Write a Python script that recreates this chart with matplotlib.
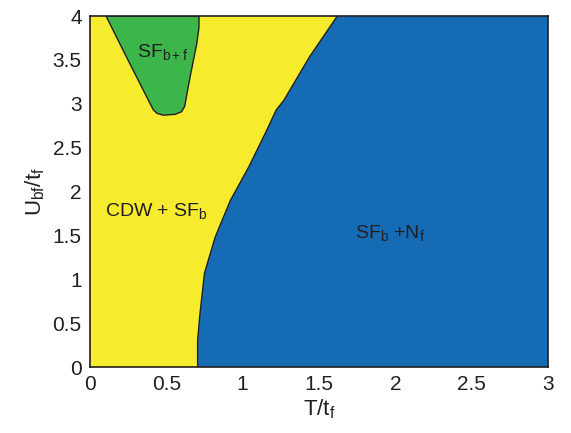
import matplotlib
matplotlib.use("Agg")
import matplotlib.pyplot as plt
from matplotlib.patches import Polygon

plt.rcParams['font.family'] = ['Liberation Sans', 'DejaVu Sans']
plt.rcParams['mathtext.fontset'] = 'custom'
plt.rcParams['mathtext.rm'] = 'Liberation Sans'
plt.rcParams['mathtext.it'] = 'Liberation Sans'

# Phase boundary between CDW+SF_b (yellow) and SF_b+N_f (blue)
blue_U = [0.0, 0.3, 0.6, 1.07, 1.48, 1.90, 2.28, 2.67, 2.93, 3.04, 3.54, 4.0]
blue_T = [0.705, 0.705, 0.72, 0.75, 0.82, 0.92, 1.04, 1.15, 1.22, 1.27, 1.44, 1.62]

# SF_{b+f} (green) pocket boundary
green_T = [0.105, 0.26, 0.415, 0.44, 0.48, 0.56, 0.60, 0.62, 0.655, 0.70, 0.714, 0.714]
green_U = [4.0, 3.46, 2.93, 2.89, 2.87, 2.88, 2.91, 2.97, 3.30, 3.69, 3.87, 4.0]

xticks = [0, 0.5, 1, 1.5, 2, 2.5, 3]
yticks = [0, 0.5, 1, 1.5, 2, 2.5, 3, 3.5, 4]

YELLOW = '#F6EB2C'
GREEN = '#3CB54A'
BLUE = '#166BB5'
EDGE = '#231F20'

fig = plt.figure(figsize=(5.71, 4.33), dpi=100)
ax = fig.add_axes([0.1576, 0.1524, 0.8021, 0.8106])
ax.set_facecolor(YELLOW)

blue_poly = list(zip(blue_T, blue_U)) + [(3.0, 4.0), (3.0, 0.0)]
ax.add_patch(Polygon(blue_poly, closed=True, facecolor=BLUE, edgecolor='none'))
ax.plot(blue_T, blue_U, color=EDGE, lw=1.0)

green_poly = list(zip(green_T, green_U))
ax.add_patch(Polygon(green_poly, closed=True, facecolor=GREEN, edgecolor=EDGE, lw=1.0))

ax.set_xlim(0, 3)
ax.set_ylim(0, 4)
ax.set_xticks(xticks)
ax.set_xticklabels(['0', '0.5', '1', '1.5', '2', '2.5', '3'])
ax.set_yticks(yticks)
ax.set_yticklabels(['0', '0.5', '1', '1.5', '2', '2.5', '3', '3.5', '4'])
ax.tick_params(length=0, labelsize=15, pad=6, colors=EDGE)
for s in ax.spines.values():
    s.set_color(EDGE)
    s.set_linewidth(1.2)

ax.set_xlabel(r'T/t$_\mathregular{f}$', fontsize=16, color=EDGE, labelpad=2)
ax.set_ylabel(r'U$_\mathregular{bf}$/t$_\mathregular{f}$', fontsize=16, color=EDGE, labelpad=4)

ax.text(0.31, 3.59, r'SF$_\mathregular{b+f}$', fontsize=14, color=EDGE, va='center', ha='left')
ax.text(0.10, 1.78, r'CDW + SF$_\mathregular{b}$', fontsize=14, color=EDGE, va='center', ha='left')
ax.text(1.735, 1.53, r'SF$_\mathregular{b}$ +N$_\mathregular{f}$', fontsize=14, color=EDGE, va='center', ha='left')

fig.savefig('out.png', dpi=100)
